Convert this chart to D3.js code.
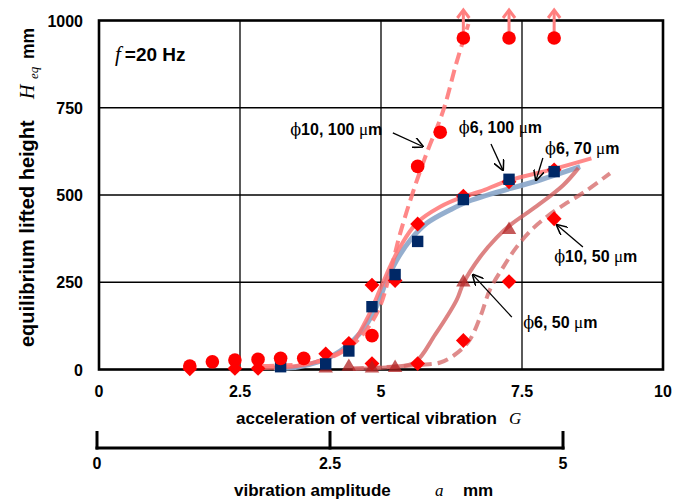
<!DOCTYPE html>
<html>
<head>
<meta charset="utf-8">
<script src="https://cdn.jsdelivr.net/npm/d3@7/dist/d3.min.js"></script>
<style>
  body { margin: 0; background: #fff; }
  svg { font-family: "Liberation Sans", Arial, sans-serif; font-weight: bold; }
  .tick-label { font-size: 16px; fill: #000; }
  .title { font-size: 17px; fill: #000; }
  .ital { font-family: "Liberation Serif", "Times New Roman", serif; font-style: italic; font-weight: normal; }
  .note { font-size: 16px; fill: #000; }
</style>
</head>
<body>
<svg width="675" height="499"></svg>
<script>
// ---- data (G = acceleration, H = lifted height mm) ----
const gTicks = [0, 2.5, 5, 7.5, 10]
const gTickLabels = ['0', '2.5', '5', '7.5', '10']
const hTicks = [0, 250, 500, 750, 1000]
const ampTicks = [0, 2.5, 5]
const ampTickLabels = ['0', '2.5', '5']

// measured points
const phi10_100 = [[1.61, 10], [2.01, 22], [2.41, 27], [2.82, 29], [3.22, 32], [3.63, 32], [4.84, 97], [5.65, 582], [6.05, 680], [6.46, 950], [7.27, 950], [8.07, 950]]
const phi6_100 = [[3.22, 8], [4.02, 16], [4.43, 53], [4.84, 180], [5.25, 272], [5.65, 367], [6.46, 487], [7.27, 545], [8.07, 567]]
const phi6_70 = [[1.61, 2], [2.41, 3], [2.82, 3], [4.02, 45], [4.43, 75], [4.84, 242], [5.25, 255], [5.65, 417], [6.46, 497], [7.27, 538], [8.07, 572]]
const phi6_50 = [[4.02, 3], [4.43, 8], [4.84, 3], [5.25, 5], [6.46, 250], [7.27, 400]]
const phi10_50 = [[4.84, 17], [5.65, 17], [6.46, 83], [7.27, 252], [8.07, 432]]
// points that went off the top of the scale
const offScale = [6.46, 7.27, 8.07]

// hand drawn trend curves
const fit10_100 = [[2.9, 10], [3.5, 14], [4.0, 28], [4.45, 65], [4.74, 113], [4.98, 180], [5.16, 276], [5.34, 390], [5.57, 510], [5.81, 620], [6.1, 740], [6.34, 880], [6.55, 990]]
const fit6_70 = [[2.9, 4], [3.5, 10], [4.0, 30], [4.45, 68], [4.74, 142], [4.98, 228], [5.16, 295], [5.34, 352], [5.63, 419], [6.05, 466], [6.46, 495], [6.76, 510], [7.23, 540], [8.05, 574], [8.73, 605]]
const fit6_100 = [[3.1, 4], [3.55, 8], [4.15, 40], [4.63, 104], [4.92, 180], [5.1, 256], [5.28, 314], [5.52, 371], [5.81, 419], [6.22, 457], [6.6, 485], [7.82, 543], [8.53, 581]]
const fit6_50 = [[4.5, 2], [5.22, 8], [5.6, 20], [5.96, 100], [6.34, 199], [6.46, 247], [6.76, 323], [7.05, 378], [7.3, 415], [7.76, 468], [8.23, 528], [8.5, 577]]
const fit10_50 = [[4.5, 3], [5.0, 6], [5.66, 13], [6.05, 20], [6.34, 46], [6.57, 84], [6.76, 151], [6.93, 228], [7.17, 294], [7.4, 350], [7.7, 405], [8.0, 445], [8.3, 478], [8.6, 508], [9.06, 562]]

// labels with arrows: text start, arrow start, arrow tip (data units)
const notes = [
  { phi: '10', um: '100', at: [3.39, 672], from: [5.21, 678], to: [5.74, 639] },
  { phi: '6', um: '100', at: [6.38, 678], from: [6.95, 646], to: [7.16, 572] },
  { phi: '6', um: '70', at: [7.91, 618], from: [7.87, 606], to: [7.75, 543] },
  { phi: '10', um: '50', at: [8.07, 308], from: [8.58, 351], to: [8.12, 414] },
  { phi: '6', um: '50', at: [7.52, 119], from: [7.32, 150], to: [6.63, 271] }
]

// ---- scales ----
const svg = d3.select('svg')
const x = d3.scaleLinear().domain([0, 10]).range([99, 663])
const y = d3.scaleLinear().domain([0, 1000]).range([369.5, 20.5])
// amplitude axis sits under the main one
const xa = d3.scaleLinear().domain([0, 5]).range([97, 563])

const line = d3.line()
  .x(d => x(d[0]))
  .y(d => y(d[1]))
  .curve(d3.curveCatmullRom.alpha(0.5))

// grid
svg.append('g')
  .selectAll('line.vg')
  .data(gTicks.slice(1, -1))
  .join('line')
  .attr('x1', d => x(d)).attr('x2', d => x(d))
  .attr('y1', y(0)).attr('y2', y(1000))
  .attr('stroke', '#000').attr('stroke-width', 1.3)

svg.append('g')
  .selectAll('line.hg')
  .data(hTicks.slice(1, -1))
  .join('line')
  .attr('x1', x(0)).attr('x2', x(10))
  .attr('y1', d => y(d)).attr('y2', d => y(d))
  .attr('stroke', '#000').attr('stroke-width', 1.3)

svg.append('rect')
  .attr('x', x(0)).attr('y', y(1000))
  .attr('width', x(10) - x(0)).attr('height', y(0) - y(1000))
  .attr('fill', 'none').attr('stroke', '#000').attr('stroke-width', 2.6)

// tick labels
svg.append('g')
  .selectAll('text')
  .data(hTicks)
  .join('text')
  .attr('class', 'tick-label')
  .attr('x', 83)
  .attr('y', d => y(d) + 6)
  .attr('text-anchor', 'end')
  .text(d => d)

svg.append('g')
  .selectAll('text')
  .data(gTicks)
  .join('text')
  .attr('class', 'tick-label')
  .attr('x', d => x(d))
  .attr('y', 397)
  .attr('text-anchor', 'middle')
  .text((d, i) => gTickLabels[i])

// axis titles, each piece placed on its own
svg.append('text').attr('class', 'title')
  .attr('x', 236).attr('y', 424)
  .text('acceleration of vertical vibration')
svg.append('text').attr('class', 'title ital')
  .attr('x', 509).attr('y', 424)
  .text('G')

const yT = (pos, size) => svg.append('text').attr('class', 'title')
  .attr('transform', `translate(${pos[0]},${pos[1]}) rotate(-90)`)
  .style('font-size', size + 'px')
yT([34, 347], 20).text('equilibrium lifted height')
yT([34, 99], 20).attr('class', 'title ital').text('H')
yT([38, 79], 13).attr('class', 'title ital').text('eq')
yT([34, 59], 17.5).text('mm')

// amplitude axis
svg.append('line')
  .attr('x1', xa(0) - 1.5).attr('x2', xa(5) + 1.5)
  .attr('y1', 448).attr('y2', 448)
  .attr('stroke', '#000').attr('stroke-width', 3)
svg.append('g')
  .selectAll('line')
  .data(ampTicks)
  .join('line')
  .attr('x1', d => xa(d)).attr('x2', d => xa(d))
  .attr('y1', 431).attr('y2', 449.5)
  .attr('stroke', '#000').attr('stroke-width', 3)
svg.append('g')
  .selectAll('text')
  .data(ampTicks)
  .join('text')
  .attr('class', 'tick-label')
  .attr('x', d => xa(d))
  .attr('y', 469)
  .attr('text-anchor', 'middle')
  .text((d, i) => ampTickLabels[i])

svg.append('text').attr('class', 'title')
  .attr('x', 234).attr('y', 496)
  .text('vibration amplitude')
svg.append('text').attr('class', 'title ital')
  .attr('x', 435).attr('y', 496)
  .text('a')
svg.append('text').attr('class', 'title')
  .attr('x', 463).attr('y', 496)
  .text('mm')

// frequency label
const fLab = svg.append('text').attr('class', 'title').style('font-size', '19px')
  .attr('x', 115).attr('y', 61)
fLab.append('tspan').attr('class', 'ital').style('font-size', '21px').text('f')
fLab.append('tspan').attr('dx', 4).text('=20 Hz')

// ---- trend curves ----
const curves = [
  { d: fit6_100, color: '#8eaacb', width: 5, dash: null, op: 0.95 },
  { d: fit6_70, color: '#ff6b6b', width: 4, dash: null, op: 0.8 },
  { d: fit6_50, color: '#d25a5a', width: 4, dash: null, op: 0.75 },
  { d: fit10_50, color: '#d46464', width: 4, dash: '11,6', op: 0.75 },
  { d: fit10_100, color: '#ff7a7a', width: 4, dash: '12,6', op: 0.9 }
]
svg.append('g')
  .selectAll('path')
  .data(curves)
  .join('path')
  .attr('d', d => line(d.d))
  .attr('fill', 'none')
  .attr('stroke', d => d.color)
  .attr('stroke-width', d => d.width)
  .attr('stroke-dasharray', d => d.dash)
  .attr('stroke-opacity', d => d.op)

// arrows for off-scale points
const up = svg.append('g').attr('stroke', '#ff7f7f').attr('stroke-width', 3).attr('fill', 'none')
up.selectAll('line')
  .data(offScale)
  .join('line')
  .attr('x1', d => x(d)).attr('x2', d => x(d))
  .attr('y1', y(950)).attr('y2', 10)
up.selectAll('path')
  .data(offScale)
  .join('path')
  .attr('d', d => `M${x(d) - 6},18 L${x(d)},10 L${x(d) + 6},18`)

// ---- markers ----
const sym = (type, size) => d3.symbol().type(type).size(size)()

svg.append('g')
  .selectAll('path')
  .data(phi10_50)
  .join('path')
  .attr('transform', d => `translate(${x(d[0])},${y(d[1])}) rotate(45)`)
  .attr('d', sym(d3.symbolSquare, 110))
  .attr('fill', '#ff0000')

svg.append('g')
  .selectAll('path')
  .data(phi6_70)
  .join('path')
  .attr('transform', d => `translate(${x(d[0])},${y(d[1])}) rotate(45)`)
  .attr('d', sym(d3.symbolSquare, 110))
  .attr('fill', '#ff0000')

svg.append('g')
  .selectAll('path')
  .data(phi6_50)
  .join('path')
  .attr('transform', d => `translate(${x(d[0])},${y(d[1])})`)
  .attr('d', sym(d3.symbolTriangle, 90))
  .attr('fill', '#b22222')
  .attr('fill-opacity', 0.75)

svg.append('g')
  .selectAll('path')
  .data(phi6_100)
  .join('path')
  .attr('transform', d => `translate(${x(d[0])},${y(d[1])})`)
  .attr('d', sym(d3.symbolSquare, 130))
  .attr('fill', '#002866')

svg.append('g')
  .selectAll('circle')
  .data(phi10_100)
  .join('circle')
  .attr('cx', d => x(d[0]))
  .attr('cy', d => y(d[1]))
  .attr('r', 6.8)
  .attr('fill', '#ff0000')

// ---- labels with arrows ----
svg.append('defs').append('marker')
  .attr('id', 'head')
  .attr('viewBox', '0 0 10 10')
  .attr('refX', 9).attr('refY', 5)
  .attr('markerWidth', 11).attr('markerHeight', 11)
  .attr('markerUnits', 'userSpaceOnUse')
  .attr('orient', 'auto')
  .append('path')
  .attr('d', 'M0,0 L10,5 L0,10')
  .attr('fill', 'none').attr('stroke', '#000').attr('stroke-width', 1.4)

const noteG = svg.append('g')
noteG.selectAll('line')
  .data(notes)
  .join('line')
  .attr('x1', d => x(d.from[0])).attr('y1', d => y(d.from[1]))
  .attr('x2', d => x(d.to[0])).attr('y2', d => y(d.to[1]))
  .attr('stroke', '#000').attr('stroke-width', 1.3)
  .attr('marker-end', 'url(#head)')

const noteT = noteG.selectAll('text')
  .data(notes)
  .join('text')
  .attr('class', 'note')
  .attr('x', d => x(d.at[0]))
  .attr('y', d => y(d.at[1]))
noteT.append('tspan').attr('font-weight', 'normal').attr('font-family', 'DejaVu Serif, serif').text('ϕ')
noteT.append('tspan').text(d => `${d.phi}, ${d.um} `)
noteT.append('tspan').attr('font-weight', 'normal').attr('font-family', 'Liberation Serif, serif').style('font-size', '17px').text('μ')
noteT.append('tspan').text('m')
</script>
</body>
</html>
